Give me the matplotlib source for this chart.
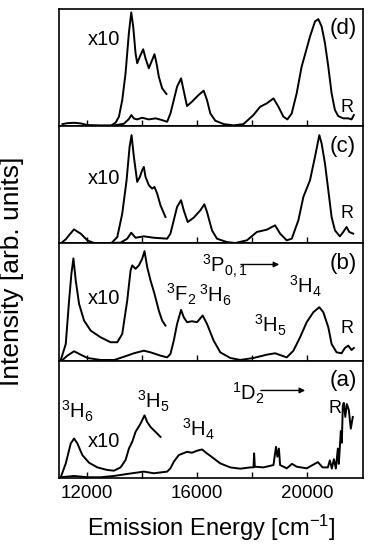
import matplotlib
matplotlib.use("Agg")
import matplotlib.pyplot as plt

plt.rcParams['font.family'] = ['Liberation Sans', 'DejaVu Sans']
plt.rcParams['mathtext.fontset'] = 'custom'
plt.rcParams['mathtext.rm'] = 'Liberation Sans'
plt.rcParams['mathtext.it'] = 'Liberation Sans:italic'
plt.rcParams['mathtext.bf'] = 'Liberation Sans:bold'

# --- datos (energia en cm-1, intensidad 0-100 por panel) ---
d_main_x = [11120, 11300, 11540, 11780, 12020, 12500, 13000, 13350, 13530, 13620, 13710, 13830,
            14010, 14255, 14500, 14680, 14920, 15040, 15160, 15280, 15425, 15520, 15640, 15820,
            16060, 16245, 16366, 16486, 16667, 16970, 17330, 17690, 18050, 18295, 18537, 18778,
            18958, 19140, 19284, 19440, 19620, 19800, 19920, 20104, 20285, 20406, 20526, 20647,
            20768, 20888, 21009, 21129, 21310, 21491, 21612, 21696]
d_main_y = [1.7, 2.5, 2.8, 2.3, 0.9, 0.6, 0.6, 2.0, 6.0, 9.4, 6.5, 5.7,
            7.1, 5.7, 6.6, 5.5, 3.7, 10.8, 22.2, 33.6, 40.7, 30.2, 17.1, 20.8,
            26.5, 30.2, 22.2, 10.8, 4.6, 1.7, 0.6, 1.7, 9.4, 16.5, 19.4, 23.6,
            16.5, 8.0, 5.7, 10.8, 27.9, 50.7, 60.7, 76.4, 89.2, 91.2, 84.9, 70.7,
            50.7, 27.9, 13.7, 8.5, 6.6, 6.6, 5.7, 9.4]
d_x10_x = [12900, 13050, 13170, 13290, 13410, 13530, 13616, 13688, 13773, 13833, 13930, 14050,
           14134, 14255, 14376, 14460, 14533, 14617, 14738, 14894]
d_x10_y = [0.6, 3.0, 8.0, 22.2, 45.0, 79.2, 96.9, 84.9, 62.0, 53.6, 59.3, 65.5,
           57.8, 49.3, 56.4, 61.3, 53.6, 42.2, 32.2, 27.4]

c_main_x = [11120, 11240, 11360, 11542, 11662, 11783, 12024, 12265, 12700, 13230, 13471, 13616,
            13773, 14074, 14436, 14919, 15039, 15160, 15280, 15425, 15522, 15666, 15883, 16125,
            16269, 16366, 16547, 16728, 17089, 17391, 17813, 18175, 18537, 18838, 19019, 19260,
            19441, 19682, 19863, 20104, 20285, 20442, 20526, 20647, 20768, 20888, 21009, 21189,
            21310, 21431, 21527, 21672]
c_main_y = [1.1, 3.5, 7.0, 12.0, 10.0, 8.3, 2.6, 0.3, 0.3, 0.6, 4.0, 9.1,
            4.8, 6.0, 4.8, 4.0, 8.3, 19.7, 31.1, 36.8, 28.2, 18.2, 21.9, 28.2,
            33.3, 26.8, 11.1, 4.0, 1.1, 0.3, 2.6, 9.7, 11.7, 15.4, 8.3, 2.6,
            4.0, 19.7, 39.6, 53.8, 73.8, 92.3, 85.2, 68.1, 45.3, 22.5, 11.1, 6.0,
            9.7, 14.0, 9.7, 8.3]
c_x10_x = [12900, 13110, 13290, 13447, 13556, 13628, 13712, 13833, 13930, 14014, 14074, 14134,
           14255, 14376, 14460, 14557, 14677, 14858]
c_x10_y = [0.3, 5.4, 25.4, 53.8, 82.3, 92.3, 73.8, 52.4, 56.7, 62.4, 65.2, 56.7,
           49.6, 46.7, 48.1, 42.5, 32.5, 22.5]

b_main_x = [11120, 11300, 11542, 11783, 12024, 12500, 13000, 13471, 13712, 14074, 14316, 14677,
            14919, 15039, 15160, 15280, 15425, 15522, 15642, 15823, 16004, 16209, 16366, 16607,
            16848, 17210, 17572, 18054, 18537, 18838, 19079, 19260, 19501, 19743, 19984, 20225,
            20442, 20587, 20768, 20888, 21069, 21250, 21370, 21491, 21612, 21696]
b_main_y = [0.6, 4.3, 8.0, 5.1, 2.3, 0.6, 0.6, 4.3, 6.3, 8.5, 7.1, 4.3,
            2.8, 5.7, 17.1, 31.3, 43.3, 37.0, 32.8, 33.6, 32.8, 38.5, 31.3, 17.1,
            7.1, 2.3, 0.6, 2.3, 5.1, 6.3, 4.3, 2.8, 8.5, 19.9, 32.8, 41.3,
            45.6, 41.3, 28.5, 14.2, 7.1, 6.3, 10.8, 12.8, 9.1, 10.8]
b_x10_x = [11059, 11240, 11361, 11445, 11518, 11602, 11723, 11904, 12145, 12507, 12868, 13110,
           13290, 13471, 13592, 13652, 13773, 13893, 14014, 14098, 14195, 14316, 14460, 14617,
           14738, 14858]
b_x10_y = [0.6, 14.2, 51.3, 74.1, 87.2, 68.4, 48.4, 34.2, 25.6, 19.9, 15.7, 15.7,
           22.8, 51.3, 76.9, 81.2, 78.3, 81.2, 86.9, 93.4, 79.8, 68.4, 57.0, 42.7,
           34.2, 29.9]

a_main_x = [11060, 11542, 12024, 12507, 12989, 13471, 14074, 14436, 14919, 15039, 15160, 15341,
            15642, 15823, 16004, 16185, 16366, 16607, 16848, 17210, 17572, 17934, 18054, 18076,
            18100, 18416, 18778, 18870, 18920, 18975, 19019, 19260, 19450, 19622, 19984, 20390,
            20560, 20752, 20825, 20897, 20970, 21042, 21114, 21150, 21222, 21259, 21295, 21331,
            21385, 21440, 21512, 21584, 21657]
a_main_y = [0.6, 1.7, 0.6, 0.6, 1.7, 3.4, 5.4, 4.0, 5.4, 8.2, 13.8, 19.5,
            22.3, 21.5, 23.2, 24.3, 20.9, 16.7, 12.4, 9.0, 7.9, 9.0, 9.0, 21.0,
            9.6, 9.0, 11.0, 26.6, 18.1, 25.1, 11.0, 8.2, 12.0, 9.6, 8.2, 13.5,
            9.0, 9.0, 15.0, 8.0, 16.0, 8.0, 25.0, 12.0, 40.0, 30.0, 62.0, 64.0,
            52.0, 63.0, 58.0, 42.0, 52.0]
a_x10_x = [11059, 11240, 11421, 11542, 11662, 11843, 12084, 12386, 12748, 12989, 13230, 13411,
           13532, 13652, 13773, 13954, 14098, 14195, 14316, 14436, 14557, 14677]
a_x10_y = [0.6, 12.4, 29.4, 33.6, 29.4, 19.5, 13.0, 9.0, 6.8, 6.2, 9.0, 15.3,
           25.1, 30.8, 39.3, 46.3, 53.4, 47.7, 43.5, 40.7, 37.9, 35.0]

ticks_x = [12000, 14000, 16000, 18000, 20000]
tick_labels = ['12000', '', '16000', '', '20000']

fig, axes = plt.subplots(4, 1, sharex=True, figsize=(3.72, 5.5), dpi=100)
fig.subplots_adjust(left=0.159, right=0.976, top=0.984, bottom=0.131, hspace=0)

paneles = [
    (d_main_x, d_main_y, d_x10_x, d_x10_y, '(d)'),
    (c_main_x, c_main_y, c_x10_x, c_x10_y, '(c)'),
    (b_main_x, b_main_y, b_x10_x, b_x10_y, '(b)'),
    (a_main_x, a_main_y, a_x10_x, a_x10_y, '(a)'),
]

for ax, (mx, my, tx, ty, letra) in zip(axes, paneles):
    ax.plot(mx, my, color='k', lw=1.4)
    ax.plot(tx, ty, color='k', lw=1.4)
    ax.set_xlim(11000, 22030)
    ax.set_ylim(0, 100)
    ax.set_yticks([])
    ax.set_xticks(ticks_x)
    ax.set_xticklabels(tick_labels)
    ax.tick_params(axis='x', direction='in', length=4, width=1, labelsize=13.5, pad=5)
    for s in ax.spines.values():
        s.set_linewidth(1.2)
    ax.text(21300, 83, letra, fontsize=16, ha='center', va='center')

fs = 14.5
ad, ac, ab, aa = axes

ad.text(12615, 73.5, 'x10', fontsize=fs, ha='center', va='center')
ad.text(21440, 16, 'R', fontsize=13, ha='center', va='center')

ac.text(12615, 55.6, 'x10', fontsize=fs, ha='center', va='center')
ac.text(21440, 25.6, 'R', fontsize=13, ha='center', va='center')

ab.text(12615, 53, 'x10', fontsize=fs, ha='center', va='center')
ab.text(21440, 27, 'R', fontsize=13, ha='center', va='center')
ab.text(17000, 80, r'$^{3}$P$_{0,1}$', fontsize=fs, ha='center', va='center')
ab.annotate('', xy=(19089, 82), xytext=(17497, 82),
            arrowprops=dict(arrowstyle='-|>', color='k', lw=1, mutation_scale=8))
ab.text(15430, 56.4, r'$^{3}$F$_{2}$', fontsize=fs, ha='center', va='center')
ab.text(16680, 55.6, r'$^{3}$H$_{6}$', fontsize=fs, ha='center', va='center')
ab.text(18655, 30, r'$^{3}$H$_{5}$', fontsize=fs, ha='center', va='center')
ab.text(19920, 63, r'$^{3}$H$_{4}$', fontsize=fs, ha='center', va='center')

aa.text(12615, 31, 'x10', fontsize=fs, ha='center', va='center')
aa.text(21006, 59, 'R', fontsize=13, ha='center', va='center')
aa.text(17860, 72, r'$^{1}$D$_{2}$', fontsize=fs, ha='center', va='center')
aa.annotate('', xy=(20030, 74.6), xytext=(18221, 74.6),
            arrowprops=dict(arrowstyle='-|>', color='k', lw=1, mutation_scale=8))
aa.text(11675, 57, r'$^{3}$H$_{6}$', fontsize=fs, ha='center', va='center')
aa.text(14423, 65, r'$^{3}$H$_{5}$', fontsize=fs, ha='center', va='center')
aa.text(16050, 41, r'$^{3}$H$_{4}$', fontsize=fs, ha='center', va='center')

aa.set_xlabel(r'Emission Energy [cm$^{-1}$]', fontsize=17, labelpad=8)
fig.text(0.032, 1 - 271 / 550, 'Intensity [arb. units]', rotation=90, fontsize=19,
         ha='center', va='center')

plt.savefig('out.png', dpi=100)
plt.close(fig)
